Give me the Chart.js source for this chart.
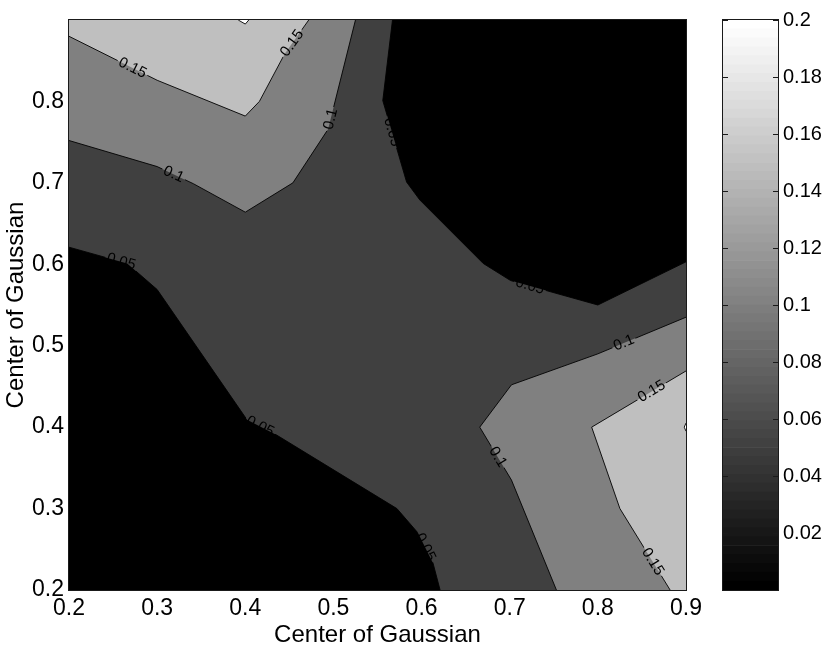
<!DOCTYPE html>
<html><head><meta charset="utf-8">
<script src="https://cdn.jsdelivr.net/npm/chart.js@4"></script>
<style>
html,body{margin:0;padding:0;background:#fff;}
#wrap{position:relative;width:830px;height:649px;overflow:hidden;}
canvas{position:absolute;top:0;}
#main{left:0;}
#cbar{left:690px;}
</style></head><body>
<div id="wrap"><canvas id="main" width="830" height="649"></canvas><canvas id="cbar" width="140" height="649"></canvas></div>
<script>
// ---------- data ----------
const xTicks = [0.2, 0.3, 0.4, 0.5, 0.6, 0.7, 0.8, 0.9];
const yTicks = [0.2, 0.3, 0.4, 0.5, 0.6, 0.7, 0.8];
const colorbarTicks = [0.02, 0.04, 0.06, 0.08, 0.1, 0.12, 0.14, 0.16, 0.18, 0.2];
const levels = [0.05, 0.1, 0.15, 0.2];
const axisTitle = 'Center of Gaussian';

// contour lines (x, y) for each level
const c05_topRight   = [[0.567,0.9],[0.556,0.801],[0.583,0.701],[0.598,0.679],[0.670,0.601],[0.701,0.580],[0.800,0.550],[0.9,0.603]];
const c05_bottomLeft = [[0.2,0.621],[0.266,0.601],[0.3,0.569],[0.402,0.409],[0.436,0.390],[0.572,0.300],[0.596,0.270],[0.613,0.233],[0.621,0.2]];
const c10_topLeft    = [[0.2,0.752],[0.3,0.720],[0.341,0.699],[0.4,0.664],[0.454,0.700],[0.494,0.766],[0.525,0.9]];
const c10_bottomRight= [[0.9,0.535],[0.8,0.490],[0.702,0.452],[0.666,0.400],[0.702,0.335],[0.753,0.2]];
const c15_topLeft    = [[0.2,0.880],[0.3,0.826],[0.4,0.782],[0.416,0.800],[0.445,0.859],[0.472,0.9]];
const c15_bottomRight= [[0.9,0.469],[0.793,0.400],[0.825,0.300],[0.882,0.2]];
const c20_top        = [[0.392,0.9],[0.400,0.895],[0.404,0.9]];
const c20_right      = [[0.9,0.405],[0.898,0.400],[0.9,0.395]];

// inline contour labels: level and approximate position
const contourLabels = [
  {level:0.15, on:'c15_topLeft',     x:0.272, y:0.841},
  {level:0.15, on:'c15_topLeft',     x:0.455, y:0.870},
  {level:0.1,  on:'c10_topLeft',     x:0.318, y:0.709},
  {level:0.1,  on:'c10_topLeft',     x:0.498, y:0.778},
  {level:0.05, on:'c05_topRight',    x:0.562, y:0.761},
  {level:0.05, on:'c05_topRight',    x:0.722, y:0.570},
  {level:0.05, on:'c05_bottomLeft',  x:0.259, y:0.602},
  {level:0.05, on:'c05_bottomLeft',  x:0.417, y:0.401},
  {level:0.05, on:'c05_bottomLeft',  x:0.605, y:0.253},
  {level:0.1,  on:'c10_bottomRight', x:0.830, y:0.502},
  {level:0.1,  on:'c10_bottomRight', x:0.686, y:0.363},
  {level:0.15, on:'c15_bottomRight', x:0.861, y:0.444},
  {level:0.15, on:'c15_bottomRight', x:0.861, y:0.234}
];

// ---------- build chart config ----------
const FONT = "'Liberation Sans', Arial, Helvetica, sans-serif";
const X_MIN = 0.2, X_MAX = 0.9, Y_MIN = 0.2, Y_MAX = 0.9;
const contours = {c05_topRight, c05_bottomLeft, c10_topLeft, c10_bottomRight, c15_topLeft, c15_bottomRight, c20_top, c20_right};
const bandColor = ['#000000', '#404040', '#808080', '#bfbfbf', '#ffffff']; // <0.05, 0.05-0.1, 0.1-0.15, 0.15-0.2, >0.2
const toPts = arr => arr.map(([x, y]) => ({x, y}));
const fmt = v => String(+v.toFixed(3));

const regions = [
  {pts: c05_topRight.concat([[X_MAX, Y_MAX]]),    band: 0, order: 9},
  {pts: c05_bottomLeft.concat([[X_MIN, Y_MIN]]),  band: 0, order: 9},
  {pts: c10_topLeft.concat([[X_MIN, Y_MAX]]),     band: 2, order: 8},
  {pts: c10_bottomRight.concat([[X_MAX, Y_MIN]]), band: 2, order: 8},
  {pts: c15_topLeft.concat([[X_MIN, Y_MAX]]),     band: 3, order: 7},
  {pts: c15_bottomRight.concat([[X_MAX, Y_MIN]]), band: 3, order: 7},
  {pts: c20_top,   band: 4, order: 6},
  {pts: c20_right, band: 4, order: 6}
];

const datasets = [];
regions.forEach(r => datasets.push({
  data: toPts(r.pts), showLine: true, fill: 'shape', backgroundColor: bandColor[r.band],
  borderWidth: 0, pointRadius: 0, order: r.order
}));
Object.keys(contours).forEach(k => datasets.push({
  data: toPts(contours[k]), showLine: true, fill: false, borderColor: '#000',
  borderWidth: 0.9, pointRadius: 0, order: 1, contourKey: k
}));

function labelGeom(chart) {
  const xs = chart.scales.x, ys = chart.scales.y;
  return contourLabels.map(l => {
    const line = contours[l.on].map(([x, y]) => [xs.getPixelForValue(x), ys.getPixelForValue(y)]);
    const px = xs.getPixelForValue(l.x), py = ys.getPixelForValue(l.y);
    let best = null;
    for (let i = 0; i < line.length - 1; i++) {
      const [ax, ay] = line[i], [bx, by] = line[i + 1];
      const dx = bx - ax, dy = by - ay, L2 = dx * dx + dy * dy;
      let t = ((px - ax) * dx + (py - ay) * dy) / L2;
      t = Math.max(0, Math.min(1, t));
      const qx = ax + t * dx, qy = ay + t * dy, d = (qx - px) ** 2 + (qy - py) ** 2;
      if (!best || d < best.d) best = {d, qx, qy, ang: Math.atan2(dy, dx)};
    }
    let a = best.ang;
    if (a > Math.PI / 2) a -= Math.PI;
    if (a <= -Math.PI / 2) a += Math.PI;
    return {text: fmt(l.level), cx: best.qx, cy: best.qy, ang: a, contour: l.on};
  });
}

const LABEL_FONT = `15px ${FONT}`;
const contourPlugin = {
  id: 'contourDecor',
  beforeDatasetsDraw(chart) {
    const {ctx, chartArea: a} = chart;
    ctx.save();
    ctx.fillStyle = bandColor[1];
    ctx.fillRect(a.left, a.top, a.right - a.left, a.bottom - a.top);
    ctx.restore();
  },
  beforeDatasetDraw(chart, args) {
    const ds = chart.data.datasets[args.index];
    if (!ds.contourKey) return;
    const ctx = chart.ctx;
    ctx.save();
    ctx.font = LABEL_FONT;
    ctx.beginPath();
    ctx.rect(0, 0, chart.width, chart.height);
    for (const g of labelGeom(chart)) {
      if (g.contour !== ds.contourKey) continue;
      const w = ctx.measureText(g.text).width + 4, h = 14;
      const c = Math.cos(g.ang), s = Math.sin(g.ang);
      const pts = [[-w/2,-h/2],[w/2,-h/2],[w/2,h/2],[-w/2,h/2]].map(([u, v]) => [g.cx + u*c - v*s, g.cy + u*s + v*c]);
      ctx.moveTo(pts[0][0], pts[0][1]);
      for (let i = 1; i < 4; i++) ctx.lineTo(pts[i][0], pts[i][1]);
      ctx.closePath();
    }
    ctx.clip('evenodd');
  },
  afterDatasetDraw(chart, args) {
    const ds = chart.data.datasets[args.index];
    if (ds.contourKey) chart.ctx.restore();
  },
  afterDatasetsDraw(chart) {
    const {ctx, chartArea: a} = chart;
    ctx.save();
    ctx.strokeStyle = '#1a1a1a';
    ctx.lineWidth = 1;
    ctx.strokeRect(Math.round(a.left) - 0.5, Math.round(a.top) - 0.5, Math.round(a.right - a.left) + 1, Math.round(a.bottom - a.top) + 1);
    ctx.font = LABEL_FONT;
    ctx.fillStyle = '#000';
    ctx.textAlign = 'center';
    ctx.textBaseline = 'middle';
    for (const g of labelGeom(chart)) {
      ctx.save();
      ctx.translate(g.cx, g.cy);
      ctx.rotate(g.ang);
      ctx.fillText(g.text, 0, 0);
      ctx.restore();
    }
    ctx.restore();
  }
};

new Chart(document.getElementById('main'), {
  type: 'scatter',
  data: {datasets},
  options: {
    responsive: false, animation: false, events: [],
    layout: {padding: {top: 20, right: 144, left: 0, bottom: 0}},
    plugins: {legend: {display: false}, tooltip: {enabled: false}},
    scales: {
      x: {
        type: 'linear', min: X_MIN, max: X_MAX,
        grid: {display: false, drawTicks: false}, border: {display: false},
        afterBuildTicks: s => { s.ticks = xTicks.map(v => ({value: v})); },
        afterFit: s => { s.height = 59; },
        ticks: {font: {size: 23, family: FONT}, color: '#000', padding: 5, maxRotation: 0, autoSkip: false, callback: v => fmt(v)},
        title: {display: true, text: axisTitle, color: '#000', font: {size: 24, family: FONT, lineHeight: 1}, padding: {top: 0, bottom: 2}}
      },
      y: {
        type: 'linear', min: Y_MIN, max: Y_MAX,
        grid: {display: false, drawTicks: false}, border: {display: false},
        afterBuildTicks: s => { s.ticks = yTicks.map(v => ({value: v})); },
        afterFit: s => { s.width = 69; },
        ticks: {font: {size: 23, family: FONT}, color: '#000', padding: 5, autoSkip: false, callback: v => fmt(v)},
        title: {display: true, text: axisTitle, color: '#000', font: {size: 24, family: FONT, lineHeight: 1}, padding: {top: 4, bottom: 0}}
      }
    }
  },
  plugins: [contourPlugin]
});

// ---------- colorbar (gray colormap, 64 steps, 0 .. 0.2) ----------
const CB_N = 64, CB_MIN = 0, CB_MAX = 0.2;
const cbDatasets = [];
for (let i = 0; i < CB_N; i++) {
  const g = Math.round(255 * i / (CB_N - 1));
  cbDatasets.push({
    data: [[CB_MIN + (CB_MAX - CB_MIN) * i / CB_N, CB_MIN + (CB_MAX - CB_MIN) * (i + 1) / CB_N]],
    backgroundColor: `rgb(${g},${g},${g})`, borderWidth: 0,
    grouped: false, barPercentage: 1, categoryPercentage: 1
  });
}
const cbPlugin = {
  id: 'cbFrame',
  afterDatasetsDraw(chart) {
    const {ctx, chartArea: a} = chart;
    const ys = chart.scales.y;
    ctx.save();
    ctx.strokeStyle = '#1a1a1a';
    ctx.lineWidth = 1;
    ctx.beginPath();
    for (const v of colorbarTicks) {
      const y = Math.round(ys.getPixelForValue(v)) + 0.5;
      ctx.moveTo(a.left, y); ctx.lineTo(a.left + 5, y);
      ctx.moveTo(a.right - 5, y); ctx.lineTo(a.right, y);
    }
    ctx.stroke();
    ctx.strokeRect(Math.round(a.left) - 0.5, Math.round(a.top) - 0.5, Math.round(a.right - a.left) + 1, Math.round(a.bottom - a.top) + 1);
    ctx.restore();
  }
};
new Chart(document.getElementById('cbar'), {
  type: 'bar',
  data: {labels: [''], datasets: cbDatasets},
  options: {
    responsive: false, animation: false, events: [],
    layout: {padding: {top: 20, left: 33, bottom: 59, right: 0}},
    plugins: {legend: {display: false}, tooltip: {enabled: false}},
    scales: {
      x: {display: false},
      y: {
        position: 'right', min: CB_MIN, max: CB_MAX,
        grid: {display: false, drawTicks: false}, border: {display: false},
        afterBuildTicks: s => { s.ticks = colorbarTicks.map(v => ({value: v})); },
        afterFit: s => { s.width = 52; },
        ticks: {font: {size: 20, family: FONT}, color: '#000', padding: 5, autoSkip: false, callback: v => fmt(v)}
      }
    }
  },
  plugins: [cbPlugin]
});
</script>
</body></html>
